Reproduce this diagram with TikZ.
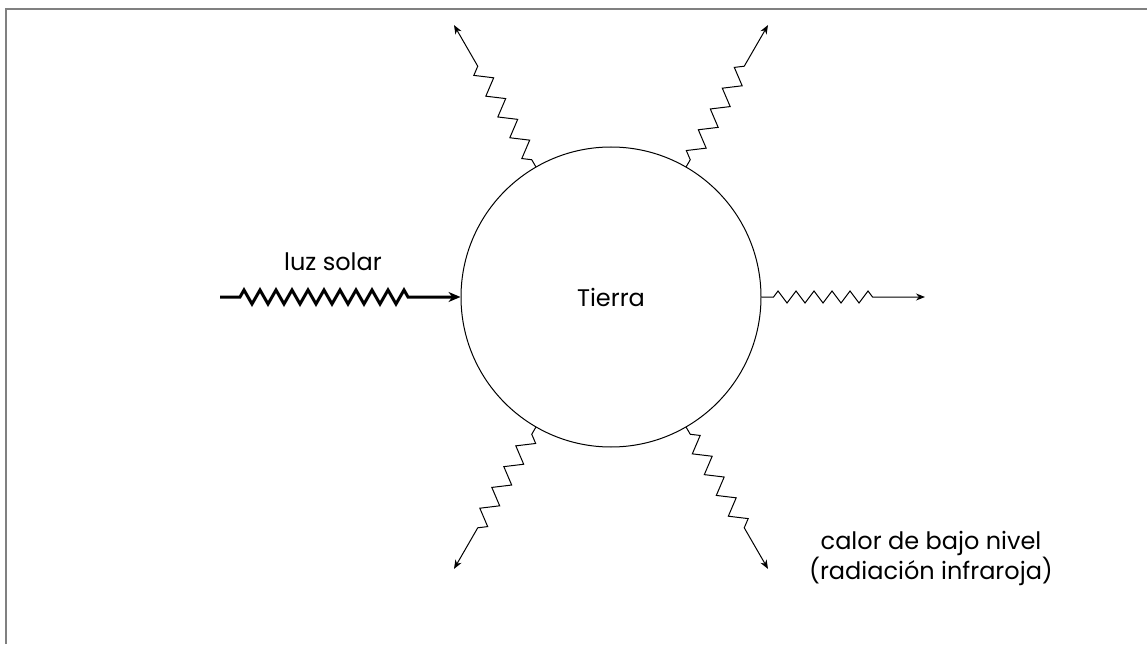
\documentclass[tikz,border=0pt]{standalone}
\usepackage{fontspec}
\setmainfont{Poppins}
\usetikzlibrary{decorations.pathmorphing}
\usetikzlibrary{positioning}
\usetikzlibrary{calc}
\usetikzlibrary{arrows.meta}

\begin{document}
\begin{tikzpicture}[x=0.5pt, y=0.5pt,
    every node/.style={font=\fontsize{12}{15}\selectfont},
    ray/.style={-{Stealth[length=4.5pt, width=3.5pt]}, line width=0.5pt,
      decorate, decoration={zigzag, amplitude=4pt, segment length=12pt,
        pre length=4pt, post length=20pt}},
    sunray/.style={-{Stealth[length=6pt, width=5pt]}, line width=1.5pt,
      decorate, decoration={zigzag, amplitude=3.5pt, segment length=8pt,
        pre length=10pt, post length=24pt}}]

        % Page size and frame
        \useasboundingbox (0,0) rectangle (1147,644);
        \draw[gray, line width=1pt] (6,0) -- (6,635) -- (1147,635);

        % Radius of the earth and length of the outgoing rays
        \def\radius{150}
        \def\raylen{164}

        % Earth
        \node[circle, draw, line width=0.5pt, minimum size=150pt, inner sep=0pt] (tierra) at (611,347) {Tierra};

        % Incoming sunlight
        \coordinate (sol) at (220,347);
        \draw[sunray] (sol) -- (tierra.west);
        \node (luz) at (333,382) {luz solar};

        % Outgoing heat, to the right
        \coordinate (este) at (925,347);
        \draw[ray, decoration={segment length=9pt, amplitude=3pt, pre length=6pt, post length=22pt}] (tierra.east) -- (este);

        % Outgoing heat, diagonal rays
        \foreach \a in {60,120,240,300} {
          \coordinate (tip\a) at ($(tierra.center)+(\a:\radius+\raylen)$);
          \draw[ray] (tierra.\a) -- (tip\a);
        }

        % Label of the heat
        \node[align=center] (calor) at (931,86) {calor de bajo nivel\\(radiación infraroja)};

\end{tikzpicture}
\end{document}
